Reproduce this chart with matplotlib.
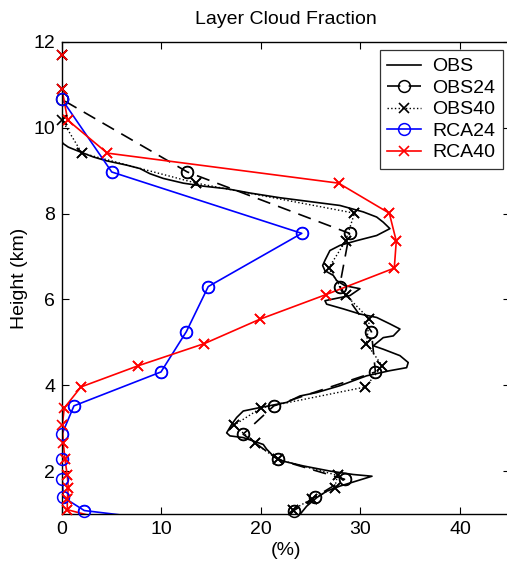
"""Layer cloud fraction profiles: observations vs. RCA model runs."""

import matplotlib

matplotlib.use("Agg")
import matplotlib.pyplot as plt

# Observed profile (continuous)
obs_x = [0, 0, 0.13, 0.63, 1.81, 3.15, 4.49, 6.50, 7.84, 8.84, 10.18, 12.19,
         14.20, 16.55, 18.89, 21.91, 25.26, 27.94, 30.28, 31.63, 32.29, 32.96,
         31.63, 29.62, 27.94, 26.93, 26.43, 26.20, 26.43, 27.27, 27.61, 28.44,
         29.95, 28.94, 26.43, 26.60, 28.27, 29.95, 31.63, 32.96, 33.97, 33.30,
         32.29, 31.29, 32.29, 33.97, 34.80, 34.64, 32.96, 30.62, 27.94, 25.60,
         23.92, 22.58, 19.90, 18.22, 17.56, 17.06, 16.55, 16.88, 18.22, 19.23,
         20.23, 20.57, 21.24, 22.24, 24.25, 26.93, 29.28, 31.16, 29.62, 27.94,
         26.60, 25.60, 24.59, 23.92, 23.5]
obs_y = [12.0, 9.67, 9.63, 9.55, 9.44, 9.32, 9.23, 9.13, 9.05, 8.93, 8.82, 8.71,
         8.64, 8.58, 8.48, 8.37, 8.27, 8.19, 8.04, 7.92, 7.80, 7.65,
         7.49, 7.37, 7.26, 7.14, 6.91, 6.79, 6.67, 6.56, 6.44, 6.32,
         6.25, 6.09, 5.97, 5.89, 5.78, 5.66, 5.58, 5.43, 5.31, 5.15,
         5.11, 4.92, 4.84, 4.69, 4.53, 4.41, 4.34, 4.22, 3.99, 3.83,
         3.75, 3.60, 3.48, 3.40, 3.25, 3.09, 2.89, 2.82, 2.78, 2.70,
         2.62, 2.51, 2.35, 2.23, 2.12, 2.00, 1.92, 1.88, 1.77, 1.65,
         1.53, 1.38, 1.18, 0.99, 0.83]

# 24-level grid
lev24 = [12.6, 10.66, 8.97, 7.54, 6.30, 5.25, 4.31, 3.52, 2.86, 2.27, 1.81,
         1.39, 1.08, 0.75]
obs24 = [0, 0, 12.6, 28.9, 27.9, 31.1, 31.5, 21.3, 18.2, 21.7, 28.4,
         25.4, 23.3, 22.0]
rca24 = [0, 0, 5.0, 24.1, 14.7, 12.5, 9.95, 1.2, 0, 0, 0.03,
         0.13, 2.24, 14.0]

# 40-level grid
lev40 = [12.6, 11.7, 10.9, 10.18, 9.41, 8.71, 8.01, 7.36, 6.73, 6.11, 5.54,
         4.97, 4.45, 3.96, 3.47, 3.07, 2.65, 2.27, 1.90, 1.61, 1.35, 1.10,
         0.75]
obs40 = [0, 0, 0, 0, 2.0, 13.5, 29.4, 28.5, 26.8, 28.5, 30.9,
         30.6, 32.2, 30.5, 20.0, 17.3, 19.4, 21.7, 27.7, 27.4, 25.1, 23.2,
         22.5]
rca40 = [0, 0, 0, 0.57, 4.55, 27.8, 32.9, 33.6, 33.4, 26.5, 19.9,
         14.3, 7.6, 1.9, 0.23, 0.03, 0.13, 0.3, 0.53, 0.63, 0.53, 0.53,
         6.3]

Y_MIN, Y_MAX = 1, 12


def in_range(xs, ys):
    pairs = [(x, y) for x, y in zip(xs, ys) if Y_MIN <= y <= Y_MAX]
    return [p[0] for p in pairs], [p[1] for p in pairs]


def main() -> None:
    plt.rcParams.update(
        {
            "font.family": ["Liberation Sans", "DejaVu Sans"],
            "font.size": 14,
        }
    )
    fig = plt.figure(figsize=(5.07, 5.65), dpi=100)
    ax = fig.add_axes([0.1223, 0.0903, 0.883, 0.8354])

    circle = dict(marker="o", markersize=8.5, markerfacecolor="none",
                  markeredgewidth=1.1)
    cross = dict(marker="x", markersize=7, markeredgewidth=1.2)

    ax.plot(obs_x, obs_y, "-", color="black", linewidth=1.2, label="OBS")
    series = [
        (obs24, lev24, "black", "--", circle, "OBS24"),
        (obs40, lev40, "black", ":", cross, "OBS40"),
        (rca24, lev24, "blue", "-", circle, "RCA24"),
        (rca40, lev40, "red", "-", cross, "RCA40"),
    ]
    for xs, ys, color, style, mk, label in series:
        kw = {"dashes": (8, 5)} if style == "--" else {}
        lw = 1.0 if style == ":" else 1.2
        ax.plot(xs, ys, style, color=color, linewidth=lw, label=label,
                **mk, **kw)
        # markers on the axis edge are drawn whole, as in the original
        mx, my = in_range(xs, ys)
        ax.plot(mx, my, linestyle="none", color=color, clip_on=False,
                zorder=3, **mk)

    ax.set_xlim(0, 45)
    ax.set_ylim(Y_MIN, Y_MAX)
    ax.set_xticks([0, 10, 20, 30, 40])
    ax.set_yticks([2, 4, 6, 8, 10, 12])
    ax.tick_params(direction="in", top=True, right=True, length=5,
                   labelsize=14, width=0.8, pad=5)
    for spine in ax.spines.values():
        spine.set_linewidth(1.0)

    ax.set_title("Layer Cloud Fraction", fontsize=14, pad=13)
    ax.set_xlabel("(%)", fontsize=14, labelpad=3)
    ax.set_ylabel("Height (km)", fontsize=14, labelpad=4)

    leg = ax.legend(loc="upper right", bbox_to_anchor=(0.985, 0.983),
                    fontsize=14, handlelength=1.7, frameon=True,
                    fancybox=False, borderaxespad=0, labelspacing=0.2,
                    handletextpad=0.6, borderpad=0.4)
    leg.get_frame().set_edgecolor("black")
    leg.get_frame().set_linewidth(0.9)

    fig.savefig("out.png", dpi=100)
    plt.close(fig)


if __name__ == "__main__":
    main()
